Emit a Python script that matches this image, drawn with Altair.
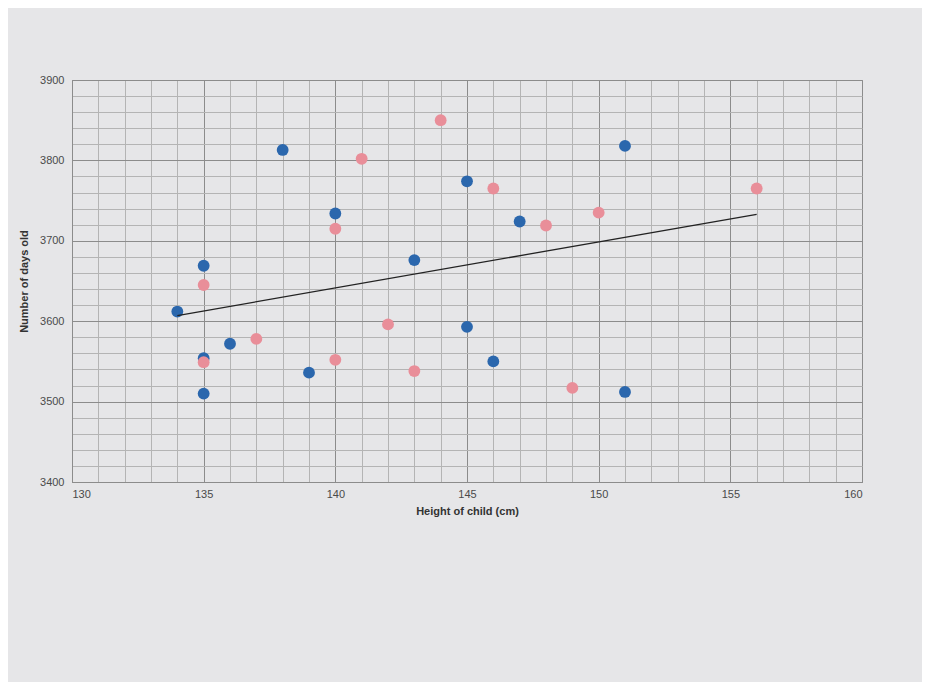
import altair as alt
import pandas as pd

# Series
blue_height = [134, 135, 135, 135, 136, 138, 139, 140, 143, 145, 145, 146, 147, 151, 151]
blue_days = [3612, 3669, 3554, 3510, 3572, 3813, 3536, 3734, 3676, 3774, 3593, 3550, 3724, 3818, 3512]

pink_height = [135, 135, 137, 140, 140, 141, 142, 143, 144, 146, 148, 149, 150, 156]
pink_days = [3645, 3549, 3578, 3715, 3552, 3802, 3596, 3538, 3850, 3765, 3719, 3517, 3735, 3765]

trend_height = [134, 156]
trend_days = [3607, 3733]

x_ticks = list(range(130, 161))
y_ticks = list(range(3400, 3901, 20))

blue_df = pd.DataFrame({"height": blue_height, "days": blue_days})
pink_df = pd.DataFrame({"height": pink_height, "days": pink_days})
trend_df = pd.DataFrame({"height": trend_height, "days": trend_days})

MAJOR = "#8c8c8c"
MINOR = "#b4b4b4"

x_scale = alt.Scale(domain=[130, 160], nice=False, zero=False)
y_scale = alt.Scale(domain=[3400, 3900], nice=False, zero=False)

x_axis = alt.Axis(
    title="Height of child (cm)",
    values=x_ticks,
    tickCount=200,
    format="d",
    labelExpr="datum.value % 5 === 0 ? datum.label : ''",
    labelOverlap=False,
    gridColor=alt.condition("datum.value % 5 === 0", alt.value(MAJOR), alt.value(MINOR)),
    gridWidth=1,
    ticks=False,
    domainColor=MAJOR,
    labelColor="#4a4a4a",
    labelFontSize=11,
    labelFont="Liberation Sans",
    labelPadding=6,
    titleFont="Liberation Sans",
    titleFontSize=11,
    titleFontWeight="bold",
    titleColor="#333333",
    titlePadding=6,
)
y_axis = alt.Axis(
    title="Number of days old",
    values=y_ticks,
    tickCount=200,
    labelExpr="datum.value % 100 === 0 ? datum.label : ''",
    labelOverlap=False,
    format="d",
    gridColor=alt.condition("datum.value % 100 === 0", alt.value(MAJOR), alt.value(MINOR)),
    gridWidth=1,
    ticks=False,
    domainColor=MAJOR,
    labelColor="#4a4a4a",
    labelFontSize=11,
    labelFont="Liberation Sans",
    labelPadding=8,
    titleFont="Liberation Sans",
    titleFontSize=11,
    titleFontWeight="bold",
    titleColor="#333333",
    titlePadding=10,
)

blue = alt.Chart(blue_df).mark_circle(size=140, opacity=1, color="#2b67ad").encode(
    x=alt.X("height:Q", scale=x_scale, axis=x_axis),
    y=alt.Y("days:Q", scale=y_scale, axis=y_axis),
)
pink = alt.Chart(pink_df).mark_circle(size=140, opacity=1, color="#e98e99").encode(
    x=alt.X("height:Q", scale=x_scale),
    y=alt.Y("days:Q", scale=y_scale),
)
trend = alt.Chart(trend_df).mark_line(color="#222222", strokeWidth=1.3).encode(
    x=alt.X("height:Q", scale=x_scale),
    y=alt.Y("days:Q", scale=y_scale),
)

chart = (
    alt.layer(blue, pink, trend)
    .properties(
        width=790,
        height=402,
        autosize=alt.AutoSizeParams(type="none"),
        padding={"left": 64, "top": 72, "right": 60, "bottom": 200},
        background="#e6e6e8",
    )
    .configure_view(stroke=MAJOR, strokeWidth=1)
)

chart.save("out.html", embed_options={"renderer": "svg", "actions": False})
